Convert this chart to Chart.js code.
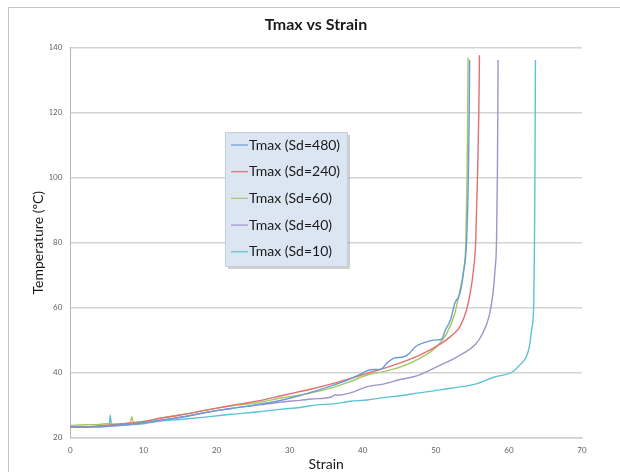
<!DOCTYPE html>
<html>
<head>
<meta charset="utf-8">
<script src="https://cdn.jsdelivr.net/npm/chart.js@4.4.1/dist/chart.umd.min.js"></script>
<style>
  html, body { margin: 0; padding: 0; background: #fff; overflow: hidden; }
  #frame { position: absolute; left: 8px; top: 7px; width: 700px; height: 600px; border: 1px solid #c4c4c4; }
  #chart { position: absolute; left: 0; top: 0; }
</style>
</head>
<body>
<div id="frame"></div>
<canvas id="chart" width="620" height="472"></canvas>
<script>
// series labels
const seriesNames = ['Tmax (Sd=480)', 'Tmax (Sd=240)', 'Tmax (Sd=60)', 'Tmax (Sd=40)', 'Tmax (Sd=10)'];

// Sd=480
const strain480 = [0, 3, 6, 10, 12.3, 15, 19.1, 22, 25.9, 29, 31.4, 33, 36, 38, 39.2, 40.6, 41.5, 42.4, 43.3, 44.2, 45.6, 46.3, 47.2, 48.3, 49.2, 50.1, 50.8, 51.3, 52.0, 52.6, 53.3, 53.8, 54.2, 54.45, 54.57, 54.62];
const tmax480 = [23.3, 23.4, 23.8, 24.6, 25.4, 26.2, 28.0, 29.0, 30.3, 31.6, 33.0, 34.0, 36.2, 37.8, 39.0, 40.6, 41.0, 41.0, 42.9, 44.4, 44.9, 45.8, 48.0, 49.2, 49.8, 50.1, 50.3, 53.1, 56.2, 61.4, 64.4, 71.0, 80, 100, 120, 136.2];

// Sd=240
const strain240 = [0, 3, 6, 10, 12.3, 15, 19.1, 22, 25.9, 29, 31.4, 33, 36, 38, 40.6, 43, 45.1, 47.8, 50.6, 52.0, 53.3, 54.2, 54.7, 55.15, 55.45, 55.7, 55.88, 55.97];
const tmax240 = [23.2, 23.5, 24.0, 25.0, 26.0, 27.0, 28.7, 29.9, 31.4, 33.0, 34.2, 35.0, 36.7, 38.0, 39.8, 41.4, 43.0, 45.4, 48.8, 51.1, 54.2, 59.3, 64.4, 71.6, 80, 100, 120, 137.7];

// Sd=60
const strain60 = [0, 2, 4, 5, 6, 8.2, 8.4, 8.6, 10, 12.3, 15, 19.1, 22, 25.9, 29, 31.4, 33, 36, 38, 40.6, 43, 45.1, 47.8, 50.1, 51.5, 52.6, 53.3, 53.8, 54.1, 54.27, 54.36, 54.42];
const tmax60 = [23.8, 24.0, 24.1, 24.3, 24.2, 24.6, 26.5, 24.7, 25.0, 26.0, 27.0, 28.7, 29.8, 30.9, 32.3, 33.1, 33.8, 35.5, 37.0, 39.3, 40.4, 41.7, 44.4, 48.0, 52.1, 58.3, 65.4, 71.6, 80, 100, 120, 137.0];

// Sd=40
const strain40 = [0, 3, 6, 10, 12.3, 15, 19.1, 22, 25.9, 29, 31.4, 33, 35.8, 36.2, 36.6, 38.3, 40.6, 42.8, 45.1, 47.4, 50.6, 52.9, 55.4, 56.3, 57.3, 57.8, 58.1, 58.3, 58.42, 58.48, 58.52];
const tmax40 = [23.2, 23.3, 23.6, 24.5, 25.3, 26.3, 28.0, 29.0, 30.1, 31.0, 31.5, 31.9, 32.6, 33.2, 33.1, 33.8, 35.7, 36.5, 37.9, 39.0, 42.3, 44.9, 48.7, 51.6, 57.5, 64.0, 71.6, 80, 100, 120, 136.2];

// Sd=10
const strain10 = [0, 3, 5.3, 5.45, 5.6, 5.8, 8, 10, 12.3, 15, 19.1, 22, 25.9, 29, 31.4, 33.7, 36, 38.3, 40.6, 43, 45.1, 47.4, 50.6, 52.0, 55.4, 57.9, 60.5, 61.5, 62.4, 62.8, 63.1, 63.4, 63.5, 63.56, 63.6, 63.63];
const tmax10 = [23.2, 23.3, 23.6, 26.9, 24.2, 23.8, 24.0, 24.3, 25.1, 25.6, 26.5, 27.2, 28.0, 28.8, 29.3, 30.1, 30.4, 31.2, 31.6, 32.4, 32.9, 33.7, 34.7, 35.2, 36.5, 38.6, 40.3, 42.4, 45.0, 48.0, 53.1, 61.4, 80, 100, 120, 136.2];

const seriesStrain = [strain480, strain240, strain60, strain40, strain10];
const seriesTmax = [tmax480, tmax240, tmax60, tmax40, tmax10];
const seriesColors = ['#6c9bd6', '#e36f6f', '#a5c860', '#a293cc', '#5cc3d2'];

// axis ticks
const xTicks = [0, 10, 20, 30, 40, 50, 60, 70];
const yTicks = [20, 40, 60, 80, 100, 120, 140];

const datasets = seriesNames.map((name, i) => ({
  label: name,
  data: seriesStrain[i].map((s, j) => ({ x: s, y: seriesTmax[i][j] })),
  borderColor: seriesColors[i],
  borderWidth: 1.4,
  pointRadius: 0,
  cubicInterpolationMode: 'monotone',
  showLine: true,
  fill: false,
}));

// legend drawn inside the plot, Excel style
const boxLegend = {
  id: 'boxLegend',
  afterDraw(chart) {
    const ctx = chart.ctx;
    const x = 225, y = 132, w = 122, h = 134;
    ctx.save();
    ctx.fillStyle = 'rgba(120,120,120,0.35)';
    ctx.fillRect(x + 3, y + 3, w, h);
    ctx.fillStyle = '#dce6f2';
    ctx.fillRect(x, y, w, h);
    ctx.strokeStyle = '#c3cfdd';
    ctx.lineWidth = 1;
    ctx.strokeRect(x + 0.5, y + 0.5, w, h);
    ctx.font = '14px Lato';
    ctx.textBaseline = 'middle';
    chart.data.datasets.forEach((ds, i) => {
      const cy = y + 13 + i * 26.7;
      ctx.strokeStyle = ds.borderColor;
      ctx.lineWidth = 1.2;
      ctx.beginPath();
      ctx.moveTo(x + 6, cy);
      ctx.lineTo(x + 23, cy);
      ctx.stroke();
      ctx.fillStyle = '#1a1a1a';
      ctx.fillText(ds.label, x + 24, cy);
    });
    ctx.restore();
  }
};

new Chart(document.getElementById('chart').getContext('2d'), {
  type: 'scatter',
  data: { datasets: datasets },
  options: {
    responsive: false,
    animation: false,
    // left padding pushes the title centre over the plot, like the original
    layout: { padding: { left: 50, right: 38, top: 0, bottom: 0 } },
    plugins: {
      legend: { display: false },
      tooltip: { enabled: false },
      title: {
        display: true,
        text: 'Tmax vs Strain',
        color: '#1a1a1a',
        font: { family: 'Lato', size: 16, weight: 'bold' },
        padding: { top: 15, bottom: 13.5 },
      },
    },
    scales: {
      x: {
        type: 'linear',
        min: 0,
        max: 70,
        afterFit: (scale) => { scale.height = 34.3; },
        afterBuildTicks: (scale) => { scale.ticks = xTicks.map(v => ({ value: v })); },
        grid: { display: false, drawTicks: false },
        border: { display: true, color: '#d0d0d0', width: 1.5 },
        ticks: { padding: 8, color: '#606060', font: { family: 'Lato', size: 8 } },
        title: { display: true, text: 'Strain', color: '#1a1a1a', font: { family: 'Lato', size: 14 }, padding: { top: 0, bottom: -1 } },
      },
      y: {
        type: 'linear',
        min: 20,
        max: 140,
        afterFit: (scale) => { scale.width = 20.4; },
        afterBuildTicks: (scale) => { scale.ticks = yTicks.map(v => ({ value: v })); },
        grid: { color: '#d4d4d4', lineWidth: 1.5, drawTicks: false },
        border: { display: true, color: '#b4b4b4', width: 1 },
        ticks: { padding: 8, color: '#606060', font: { family: 'Lato', size: 8 } },
        title: { display: true, text: 'Temperature (ºC)', color: '#1a1a1a', font: { family: 'Lato', size: 14 }, padding: { top: -20.4, bottom: 4 } },
      },
    },
  },
  plugins: [boxLegend],
});
</script>
</body>
</html>
